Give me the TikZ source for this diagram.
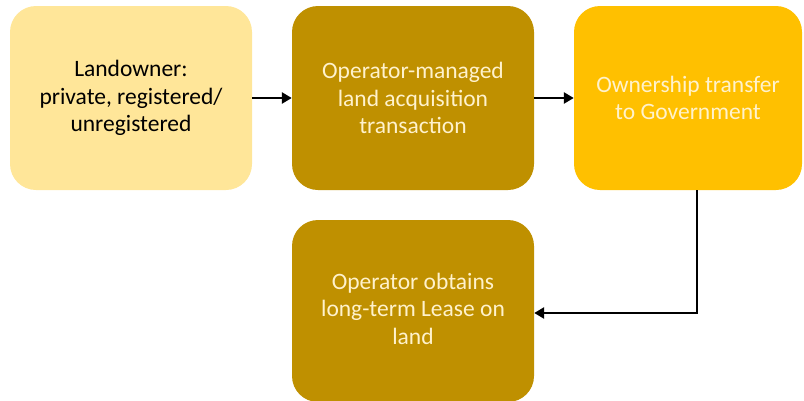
\documentclass[tikz,border=0pt]{standalone}
\usepackage{fontspec}
\setmainfont{Carlito}
\usetikzlibrary{arrows.meta}
\definecolor{lightY}{HTML}{FFE699}
\definecolor{darkG}{HTML}{BF9000}
\definecolor{goldY}{HTML}{FFC000}
\definecolor{paleT}{HTML}{FFF2CC}
\begin{document}
\begin{tikzpicture}[x=1pt,y=-1pt,
  box/.style={rounded corners=26pt, minimum width=242pt, minimum height=184pt, align=center, inner sep=0pt, font=\fontsize{23.5}{27.5}\selectfont},
  conn/.style={line width=2.6pt, -{Triangle[length=10pt,width=11pt]}}]
\useasboundingbox (0,0) rectangle (804,400);
\node[box, fill=lightY, text=black] (land) at (131,98) {Landowner:\\private, registered/\\unregistered};
\node[box, fill=darkG, text=paleT] (oper) at (413,98) {Operator-managed\\land acquisition\\transaction};
\node[box, fill=goldY, text=paleT, minimum width=228pt] (gov) at (688,98) {Ownership transfer\\to Government};
\node[box, fill=darkG, text=paleT, minimum height=182pt] (lease) at (413,311) {\raisebox{-3pt}{\begin{tabular}{c}Operator obtains\\long-term Lease on\\land\end{tabular}}};
\draw[conn] (land.east) -- (oper.west);
\draw[conn] (oper.east) -- (gov.west);
\draw[conn] (gov.south -| 697,0) |- (lease.east |- 0,313);
\end{tikzpicture}
\end{document}
